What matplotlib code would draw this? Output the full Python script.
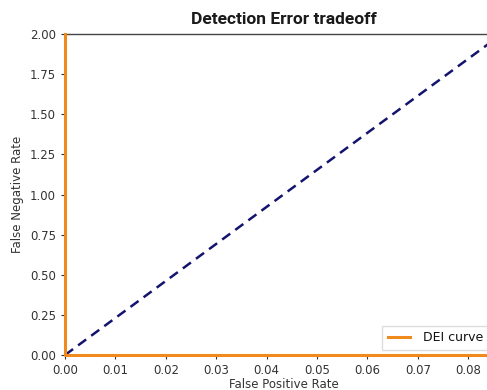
import matplotlib
matplotlib.use("Agg")
import matplotlib.pyplot as plt

# DET curve points (false positive rate, false negative rate)
fpr = [0.0, 0.0, 0.0867]
fnr = [2.0, 0.0, 0.0]
# reference diagonal
diag_x = [0.0, 0.0867]
diag_y = [0.0, 2.0]

xticks = [0.00, 0.01, 0.02, 0.03, 0.04, 0.05, 0.06, 0.07, 0.08]
yticks = [0.00, 0.25, 0.50, 0.75, 1.00, 1.25, 1.50, 1.75, 2.00]

W, H = 487, 390
fig = plt.figure(figsize=(W / 100, H / 100), dpi=100, facecolor="white")
x0, y0, ytop = 65, 355, 34
px_per_unit = 50.4 / 0.01
ax = fig.add_axes([x0 / W, 1 - y0 / H, 0.0867 * px_per_unit / W, (y0 - ytop) / H])

ax.plot(fpr, fnr, color="#f08a1c", lw=2.2, label="DEI curve", clip_on=False, zorder=3)
ax.plot(diag_x, diag_y, color="#14146e", lw=1.8, ls=(0, (4, 2.5)), zorder=2)

ax.set_xlim(0, 0.0867)
ax.set_ylim(0, 2.0)
ax.set_xticks(xticks, [f"{v:.2f}" for v in xticks])
ax.set_yticks(yticks, [f"{v:.2f}" for v in yticks])
ax.tick_params(labelsize=8.5, colors="#333333", length=3, width=0.8)
for s in ax.spines.values():
    s.set_color("#444444")
    s.set_linewidth(1.0)

ax.set_xlabel("False Positive Rate", fontsize=8.5, color="#333333", labelpad=1)
ax.set_ylabel("False Negative Rate", fontsize=8.5, color="#333333", labelpad=4)
ax.set_title("Detection Error tradeoff", fontsize=12.5, fontweight="bold",
             family=["Roboto", "DejaVu Sans"], color="#1a1a1a", pad=7)

# legend box starts near x=382 px and runs past the right edge
lx = (382 - x0) / (0.0867 * px_per_unit)
ly = (y0 - 350) / (y0 - ytop)
leg = ax.legend(loc="lower left", bbox_to_anchor=(lx, ly), borderaxespad=0,
                fontsize=9, handlelength=1.8, handletextpad=1.0, borderpad=0.45,
                framealpha=1, edgecolor="#dddddd", fancybox=False)
for t in leg.get_texts():
    t.set_color("#111111")

fig.savefig("out.png", dpi=100, facecolor="white")
